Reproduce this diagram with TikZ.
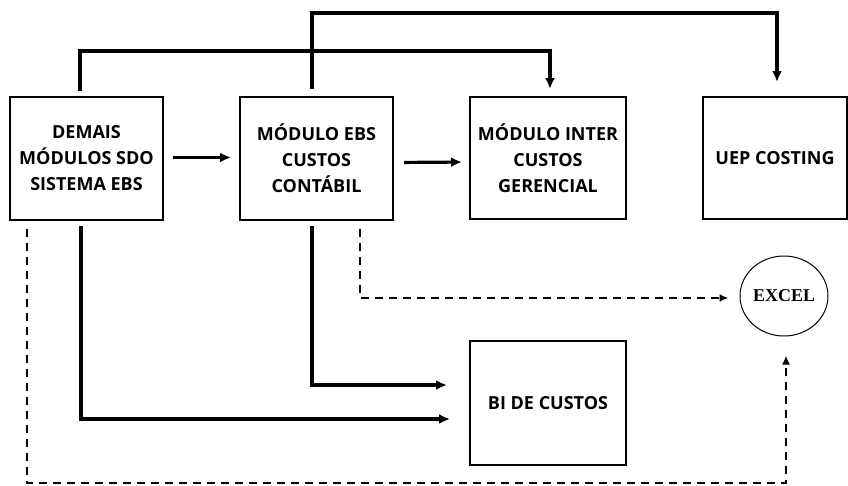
\documentclass[tikz,border=0pt]{standalone}
\usepackage{fontspec}
\setmainfont{Open Sans}
\newfontfamily\excelfont{Liberation Serif}
\usetikzlibrary{arrows.meta,shapes.geometric}

\begin{document}
\begin{tikzpicture}[x=1pt,y=-1pt,
    box/.style={draw,line width=2pt,align=center,inner sep=0pt,
        font=\fontsize{18}{26}\selectfont\bfseries},
    flow/.style={line width=3.2pt,-{Latex[length=11pt,width=10pt]}},
    dflow/.style={line width=2.4pt,dash pattern=on 8pt off 6pt,-{Latex[length=9pt,width=8pt]}}]

    % Fix the canvas
    \useasboundingbox (0,0) rectangle (848,485);

    % Draw boxes
    \node[box,minimum width=153pt,minimum height=123pt] (demais) at (86.5,158.5) {DEMAIS\\MÓDULOS SDO\\SISTEMA EBS};
    \node[box,minimum width=153pt,minimum height=123pt] (contabil) at (316.5,158.5) {MÓDULO EBS\\CUSTOS\\CONTÁBIL};
    \node[box,minimum width=156pt,minimum height=122pt] (gerencial) at (548,158) {MÓDULO INTER\\CUSTOS\\GERENCIAL};
    \node[box,minimum width=144pt,minimum height=122pt] (uep) at (775,158) {UEP COSTING};
    \node[box,minimum width=156pt,minimum height=124pt] (bi) at (548,403) {BI DE CUSTOS};

    % Draw Excel
    \node[ellipse,draw,line width=1pt,minimum width=88pt,minimum height=80pt,inner sep=0pt,
        font=\excelfont\fontsize{18}{18}\selectfont\bfseries] (excel) at (784,296) {EXCEL};

    % Horizontal arrows
    \draw[flow,shorten <=9pt,shorten >=8pt] ([yshift=1pt]demais.east) -- ([yshift=1pt]contabil.west);
    \draw[flow,shorten <=10pt,shorten >=7pt] ([yshift=-4pt]contabil.east) -- ([yshift=-4pt]gerencial.west);

    % Top connectors
    \draw[flow,shorten <=5pt,shorten >=7pt] ([xshift=-6.5pt]demais.north) -- ++(0,-45) -| ([xshift=2pt]gerencial.north);
    \draw[flow,shorten <=7pt,shorten >=14pt] ([xshift=-4.5pt]contabil.north) -- ++(0,-83) -| ([xshift=2pt]uep.north);

    % Bottom connectors
    \draw[flow,shorten <=5pt,shorten >=19pt] ([xshift=-5.5pt]demais.south) |- ([yshift=-16pt]bi.west);
    \draw[flow,shorten <=5pt,shorten >=22pt] ([xshift=-4.5pt]contabil.south) |- ([yshift=18pt]bi.west);

    % Dashed connectors to Excel
    \draw[dflow,shorten <=8pt,shorten >=11pt] ([xshift=43.5pt]contabil.south) |- ([yshift=-2pt]excel.west);
    \draw[dflow,shorten <=8pt,shorten >=19pt] ([xshift=-59.5pt]demais.south) -- ++(0,262) -| ([xshift=2pt]excel.south);
\end{tikzpicture}
\end{document}
